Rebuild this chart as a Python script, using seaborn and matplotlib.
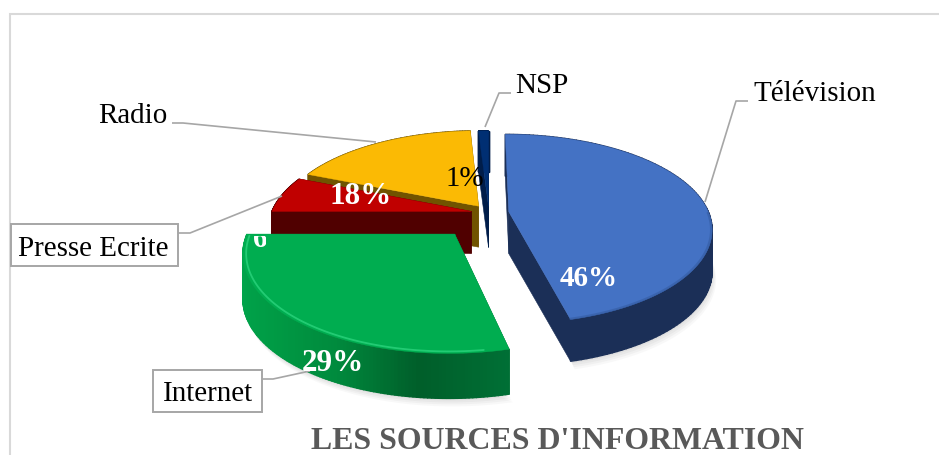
import numpy as np
import matplotlib
matplotlib.use("Agg")
import matplotlib.pyplot as plt
from matplotlib.colors import LinearSegmentedColormap
from matplotlib.patches import Polygon, Rectangle
import seaborn as sns

# ---- data ----
categories = ["Télévision", "Internet", "Presse Ecrite", "Radio", "NSP"]
values = [46, 29, 6, 18, 1]
explode = [0.10, 0.27, 0.09, 0.09, 0.07]

# ---- styles ----
top_colors = ["#4472C4", "#00AD50", "#C00000", "#FBBA04", "#002F73"]
side_stops = [
    ["#1B2F57", "#1B2F57"],
    ["#00A94F", "#00A24A", "#009A44", "#008A3D", "#005E2A", "#006F35"],
    ["#500000", "#500000"],
    ["#705300", "#705300"],
    ["#001D4A", "#001D4A"],
]
radial_colors = ["#1B2F57", "#006F35", "#500000", "#705300", "#001D4A"]
draw_order = [4, 3, 2, 1, 0]
GREY = "#A6A6A6"

sns.set_theme(style="white")
plt.rcParams["font.family"] = ["Liberation Serif", "DejaVu Serif"]
palette = sns.color_palette(top_colors)

fig = plt.figure(figsize=(9.39, 4.55), dpi=100, facecolor="white")
ax = fig.add_axes([0, 0, 1, 1])
wedges, _ = ax.pie(values, explode=explode, startangle=90, counterclock=False, radius=1.0)
geom = [(w.center, w.r, w.theta1, w.theta2) for w in wedges]
for w in wedges:
    w.remove()
ax.set_aspect("auto")
ax.set_xlim(0, 939)
ax.set_ylim(455, 0)
ax.axis("on")
ax.set_xticks([])
ax.set_yticks([])
for s in ax.spines.values():
    s.set_visible(False)

# perspective projection of the pie plane
CX, CY, RX, RY, KX, KY = 489, 213, 200, 95, 0.18, 0.18


def project(x, y):
    X = CX + RX * x * (1 - KX * y)
    Y = CY - RY * y * (1 - KY * y)
    return np.column_stack([X, Y])


def arc(center, r, t1, t2, n=120):
    t = np.radians(np.linspace(t1, t2, n))
    return project(center[0] + r * np.cos(t), center[1] + r * np.sin(t))


def depth_of(center):
    return 42 - 14 * center[1]


# soft ground shadow below the two front slices
for i in (0, 1):
    c, r, t1, t2 = geom[i]
    a = arc(c, r, t1, t2) + [0, depth_of(c)]
    for off, alp in zip((8, 6, 4, 2), (0.05, 0.06, 0.07, 0.08)):
        ax.add_patch(Polygon(a + [off * 0.5, off], closed=True, fc="#808080", ec="none", alpha=alp, zorder=1))

z = 2
for i in draw_order:
    c, r, t1, t2 = geom[i]
    apex = project(np.array([c[0]]), np.array([c[1]]))
    top = arc(c, r, t1, t2)
    drop = np.array([0, depth_of(c)])
    # radial faces
    for edge in (top[0], top[-1]):
        pts = np.vstack([apex, edge[None], edge[None] + drop, apex + drop])
        ax.add_patch(Polygon(pts, closed=True, fc=radial_colors[i], ec=radial_colors[i], lw=0.4, zorder=z))
    # curved wall
    cmap = LinearSegmentedColormap.from_list("side", side_stops[i])
    m = len(top)
    for k in range(m - 1):
        col = cmap(k / (m - 2))
        quad = np.vstack([top[k], top[k + 1], top[k + 1] + drop, top[k] + drop])
        ax.add_patch(Polygon(quad, closed=True, fc=col, ec=col, lw=1.0, zorder=z + 0.1))
    # top face
    face = np.vstack([apex, top])
    ax.add_patch(Polygon(face, closed=True, fc=palette[i], ec=palette[i], lw=0.3, zorder=z + 0.2))
    z += 1

# bevel light on the green rim, darker soft edge on the blue rim
c, r, t1, t2 = geom[1]
rim = arc(c, r * 0.985, t1 + 1, t2 - 6)
ax.plot(rim[:, 0], rim[:, 1], color="#2ED680", lw=1.3, alpha=0.75, zorder=z)
c, r, t1, t2 = geom[0]
rim = arc(c, r * 0.995, t1, t1 + 75)
ax.plot(rim[:, 0], rim[:, 1], color="#2F5597", lw=1.6, alpha=0.45, zorder=z)
z += 1

# chart frame
ax.plot([9.5, 9.5, 939], [455, 13.5, 13.5], color="#D9D9D9", lw=1.5, zorder=0, solid_joinstyle="miter")

# leader lines
LW = 1.2
leaders = [
    ([748, 736, 705], [101, 101, 202]),
    ([511, 499, 485], [93, 93, 127]),
    ([172, 183, 376], [123, 123, 142]),
    ([178, 190, 282], [233, 233, 196]),
    ([262, 273, 310], [379, 379, 371]),
]
for xs, ys in leaders:
    ax.plot(xs, ys, color=GREY, lw=LW, zorder=z, solid_capstyle="butt")
z += 1

FS = 20.9
name_pos = [(753, 101), (163, 401), (18, 256), (98, 123), (515, 93)]
for name, (x, y) in zip(categories, name_pos):
    ax.text(x, y, name, fontsize=FS, color="black", ha="left", va="baseline", zorder=z + 1)

for x0, y0, x1, y1 in [(11, 224, 178, 266), (153, 370, 262, 412)]:
    ax.add_patch(Rectangle((x0, y0), x1 - x0, y1 - y0, fc="white", ec=GREY, lw=1.4, zorder=z))

pct_pos = [(560, 286), (302, 371), (253, 247), (329, 204), (446, 186)]
pct_col = ["white", "white", "white", "white", "black"]
pct_wt = ["bold", "bold", "bold", "bold", "normal"]
pct_fs = [21.0, 22.4, 20.9, 22.4, 20.9]
for v, (x, y), col, wt, fs in zip(values, pct_pos, pct_col, pct_wt, pct_fs):
    t = ax.text(x, y, f"{v}%", fontsize=fs, color=col, fontweight=wt, ha="left", va="baseline", zorder=z + 2)
    if v == 6:
        t.set_clip_on(True)
        t.set_clip_path(Rectangle((250, 236), 16, 14, transform=ax.transData))

ax.text(557, 449, "LES SOURCES D'INFORMATION", fontsize=22.95, fontweight="bold",
        color="#595959", ha="center", va="baseline", zorder=z + 2)

fig.savefig("out.png", dpi=100, facecolor="white")
